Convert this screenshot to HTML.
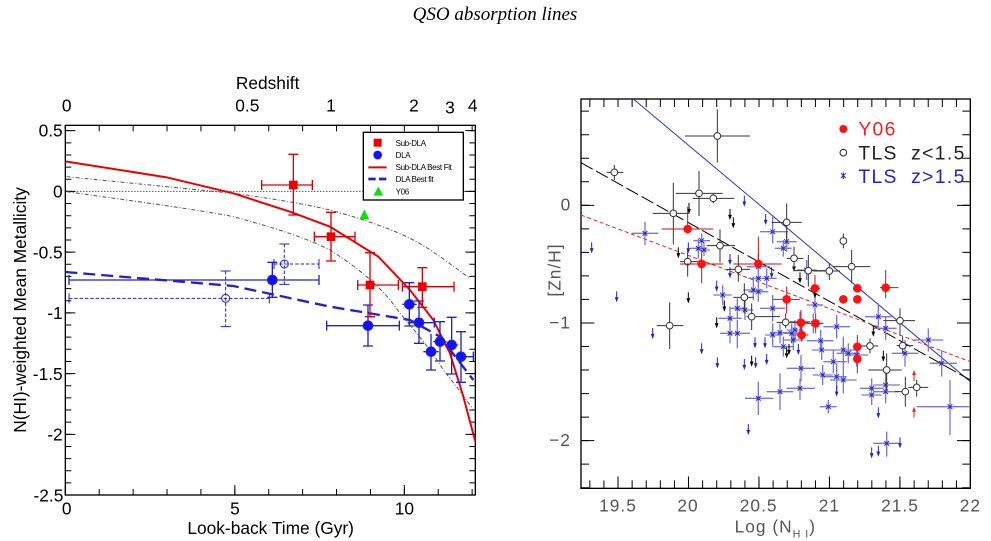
<!DOCTYPE html>
<html><head><meta charset="utf-8"><style>
body{margin:0;background:#fff;width:991px;height:541px;overflow:hidden}
svg{display:block}
</style></head><body>
<svg width="991" height="541" viewBox="0 0 991 541" xmlns="http://www.w3.org/2000/svg" font-family="Liberation Sans, sans-serif">
<defs>
<g id="da"><line x1="0" y1="-18" x2="0" y2="0" stroke-width="3"/><path d="M-5,0 L5,0 L0,14 Z"/></g>
<g id="ua"><line x1="0" y1="18" x2="0" y2="0" stroke-width="3"/><path d="M-5,0 L5,0 L0,-14 Z"/></g>
</defs>
<text x="495" y="20" text-anchor="middle" font-family="Liberation Serif, serif" font-style="italic" font-size="19">QSO absorption lines</text>

<!-- LEFT PLOT in zoom coords -->
<g transform="translate(0,60) scale(0.33333)">
<rect x="196" y="196" width="1230" height="1109" fill="none" stroke="#000" stroke-width="4"/>
<line x1="205" y1="210.5" x2="205" y2="1306" stroke="#000" stroke-width="18" stroke-dasharray="3 33.44"/>
<line x1="211" y1="210.5" x2="211" y2="1306" stroke="#000" stroke-width="30" stroke-dasharray="3 179.2"/>
<line x1="1417" y1="210.5" x2="1417" y2="1306" stroke="#000" stroke-width="18" stroke-dasharray="3 33.44"/>
<line x1="1411" y1="210.5" x2="1411" y2="1306" stroke="#000" stroke-width="30" stroke-dasharray="3 179.2"/>
<line x1="194.5" y1="1296" x2="1426" y2="1296" stroke="#000" stroke-width="18" stroke-dasharray="3 98.7"/>
<line x1="194.5" y1="1290" x2="1426" y2="1290" stroke="#000" stroke-width="30" stroke-dasharray="3 505.5"/>
<line x1="194.5" y1="205" x2="1426" y2="205" stroke="#000" stroke-width="18" stroke-dasharray="3 98.7"/>
<line x1="196" y1="394" x2="1426" y2="394" stroke="#000" stroke-width="3" stroke-dasharray="3 6"/>
<path d="M200,350 C400,370 600,390 700,400 C850,420 950,440 990,450 C1100,480 1180,510 1230,535 C1300,570 1360,620 1410,655" fill="none" stroke="#555" stroke-width="3" stroke-dasharray="12 6 3 6"/>
<path d="M200,395 C450,430 600,450 700,470 C850,510 930,540 990,570 C1100,640 1160,700 1200,760 C1260,830 1300,880 1330,930 C1370,980 1400,1020 1420,1050" fill="none" stroke="#555" stroke-width="3" stroke-dasharray="12 6 3 6"/>
<path d="M196,304 L500,352 L700,400 L870,455 L990,500 L1135,590 L1230,690 L1300,780 L1350,880 L1390,1010 L1426,1145" fill="none" stroke="#e00" stroke-width="6"/>
<path d="M196,636 L700,678 L990,740 L1230,780 L1320,830 L1420,960" fill="none" stroke="#22c" stroke-width="7" stroke-dasharray="36 18"/>
<g stroke="#22c" stroke-width="3" fill="none" stroke-dasharray="10 6">
<line x1="207" y1="715" x2="808" y2="715"/><line x1="677" y1="633" x2="677" y2="800"/>
<line x1="822" y1="612" x2="957" y2="612"/><line x1="853" y1="552" x2="853" y2="673"/>
</g>
<g stroke="#22c" stroke-width="3" fill="none">
<circle cx="677" cy="715" r="12"/><circle cx="853" cy="612" r="12"/>
<path d="M207,700v30M808,700v30M662,633h30M662,800h30M822,597v30M957,597v30M838,552h30M838,673h30"/>
</g>
<g stroke="#22c" stroke-width="4" fill="#11f">
<path d="M207,660H957M817,607V712M207,645v30M957,645v30M802,607h30M802,712h30" fill="none"/>
<path d="M980,797H1198M1104,735V858M980,782v30M1198,782v30M1089,735h30M1089,858h30" fill="none"/>
<path d="M1207,733H1250M1228,668V798M1213,668h30M1213,798h30" fill="none"/>
<path d="M1223,788H1303M1257,723V850M1242,723h30M1242,850h30M1303,773v30" fill="none"/>
<path d="M1293,822V930M1278,930h30M1270,875H1316" fill="none"/>
<path d="M1320,785V903M1305,785h30M1305,903h30M1300,845H1340" fill="none"/>
<path d="M1355,772V942M1340,772h30M1340,942h30M1335,855H1375" fill="none"/>
<path d="M1383,815V967M1368,815h30M1368,967h30M1383,890H1420M1420,875v30" fill="none"/>
<circle cx="817" cy="660" r="14"/><circle cx="1104" cy="797" r="14"/><circle cx="1228" cy="733" r="14"/><circle cx="1257" cy="788" r="14"/><circle cx="1293" cy="875" r="14"/><circle cx="1320" cy="845" r="14"/><circle cx="1355" cy="855" r="14"/><circle cx="1383" cy="890" r="14"/>
</g>
<g stroke="#d00" stroke-width="4" fill="none">
<path d="M785,375H937M880,283V465M785,360v30M937,360v30M865,283h30M865,465h30"/>
<path d="M943,530H1065M993,457V603M943,515v30M1065,515v30M978,457h30M978,603h30"/>
<path d="M1073,675H1195M1110,578V770M1073,660v30M1195,660v30M1095,578h30M1095,770h30"/>
<path d="M1207,680H1362M1267,623V742M1207,665v30M1362,665v30M1252,623h30M1252,742h30"/>
</g>
<g fill="#e00"><rect x="867" y="362" width="26" height="26"/><rect x="980" y="517" width="26" height="26"/><rect x="1097" y="662" width="26" height="26"/><rect x="1254" y="667" width="26" height="26"/></g>
<path d="M1093,448 L1108,478 L1078,478 Z" fill="#1d1"/>
<rect x="1090" y="217" width="300" height="203" fill="#fff" stroke="#000" stroke-width="4"/>
<rect x="1121" y="236" width="24" height="24" fill="#e00"/>
<circle cx="1133" cy="285" r="13" fill="#11f"/>
<line x1="1105" y1="322" x2="1160" y2="322" stroke="#e00" stroke-width="6"/>
<line x1="1105" y1="357" x2="1160" y2="357" stroke="#22c" stroke-width="8" stroke-dasharray="22 10"/>
<path d="M1135,380 L1150,407 L1120,407 Z" fill="#1d1"/>
<g font-size="24" letter-spacing="-1"><text x="1187" y="258">Sub-DLA</text><text x="1187" y="294">DLA</text><text x="1187" y="330">Sub-DLA Best Fit</text><text x="1187" y="366">DLA Best fit</text><text x="1187" y="404">Y06</text></g>
<g font-size="52" text-anchor="end">
<text x="188" y="230">0.5</text><text x="188" y="412">0</text><text x="188" y="595">-0.5</text><text x="188" y="777">-1</text><text x="188" y="960">-1.5</text><text x="188" y="1142">-2</text><text x="190" y="1325">-2.5</text>
</g>
<g font-size="52" text-anchor="middle">
<text x="200" y="1364">0</text><text x="705" y="1364">5</text><text x="1213" y="1364">10</text>
<text x="200" y="154">0</text><text x="742" y="154">0.5</text><text x="993" y="154">1</text><text x="1242" y="154">2</text><text x="1350" y="160">3</text><text x="1418" y="154">4</text>
<text x="803" y="87">Redshift</text>
<text x="812" y="1422">Look-back Time (Gyr)</text>
<text transform="translate(78,750) rotate(-90)">N(HI)-weighted Mean Metallicity</text>
</g>
</g>

<!-- RIGHT PLOT -->
<g transform="translate(500,60) scale(0.33333)">
<rect x="243" y="117" width="1168" height="1168" fill="none" stroke="#000" stroke-width="4"/>
<line x1="268" y1="1273" x2="1411" y2="1273" stroke="#000" stroke-width="24" stroke-dasharray="3 39.3"/>
<line x1="352.5" y1="1267" x2="1411" y2="1267" stroke="#000" stroke-width="36" stroke-dasharray="3 208.4"/>
<line x1="268" y1="129" x2="1411" y2="129" stroke="#000" stroke-width="24" stroke-dasharray="3 39.3"/>
<line x1="255" y1="152" x2="255" y2="1285" stroke="#000" stroke-width="24" stroke-dasharray="3 67.6"/>
<line x1="1399" y1="152" x2="1399" y2="1285" stroke="#000" stroke-width="24" stroke-dasharray="3 67.6"/>
<path d="M243,436h40M243,789h40M243,1142h40M1411,436h-40M1411,789h-40M1411,1142h-40" stroke="#000" stroke-width="3"/>
<line x1="400" y1="117" x2="1411" y2="965" stroke="#33b" stroke-width="3"/>
<line x1="243" y1="308" x2="1411" y2="960" stroke="#000" stroke-width="3" stroke-dasharray="40 12"/>
<line x1="243" y1="465" x2="1411" y2="905" stroke="#e22" stroke-width="3" stroke-dasharray="12 8"/>
<g stroke="#77d" stroke-width="4" fill="none">
<path d="M395,520h80M435,485v70 M570,565h50M595,535v60 M580,542h50M605,520v45 M595,570h35M612,548v40 M640,705h55M668,675v60 M655,775h70M690,740v70 M690,745h45M712,715v60 M660,820h60M690,790v60 M680,820h70M712,780v85 M740,620h70M775,580v70 M745,655h65M775,620v70 M770,655h60M800,625v60 M745,695h60M775,665v60 M780,745h75M818,705v80 M780,515h85M818,470v80 M830,545h60M860,515v60 M825,565h50M850,540v50 M795,825h50M818,790v70 M810,818h60M840,790v60 M850,820h50M875,790v60 M860,810h50M885,780v60 M870,785h60M900,755v60 M890,630h60M920,600v60 M920,735h50M945,710v50 M920,842h80M962,810v60 M935,870h60M965,840v60 M970,800h80M1010,765v70 M990,870h80M1030,830v80 M990,960h80M1030,900v100 M970,950h70M1010,910v80 M938,945h60M968,915v60 M960,1040h50M985,1020v40 M1035,885h70M1070,850v70 M1080,985h70M1115,955v60 M1085,1005h60M1115,975v60 M1095,770h80M1135,730v80 M1120,805h70M1157,770v70 M1120,975h80M1157,940v70 M1120,995h75M1157,960v70 M1175,880h80M1215,840v80 M1240,840h90M1285,805v70 M1290,910h80M1325,870v80 M1250,1040h160M1350,960v165 M1120,1150h80M1160,1115v75 M735,1015h85M775,965v100 M800,995h80M840,940v110 M860,985h85M900,955v65 M860,925h85M903,885v80 M730,690h60M760,650v70 M710,750h50M735,720v60 M820,860h60M850,830v60 M850,840h60M880,810v60 M910,790h60M940,760v60 M970,905h70M1000,870v70 M1010,880h70M1045,850v60"/>
</g>
<g stroke="#22c" stroke-width="3">
<path d="M428,513l14,14M442,513l-14,14 M588,558l14,14M602,558l-14,14 M598,535l14,14M612,535l-14,14 M605,563l14,14M619,563l-14,14 M661,698l14,14M675,698l-14,14 M683,768l14,14M697,768l-14,14 M705,738l14,14M719,738l-14,14 M683,813l14,14M697,813l-14,14 M705,813l14,14M719,813l-14,14 M768,613l14,14M782,613l-14,14 M768,648l14,14M782,648l-14,14 M793,648l14,14M807,648l-14,14 M768,688l14,14M782,688l-14,14 M811,738l14,14M825,738l-14,14 M811,508l14,14M825,508l-14,14 M853,538l14,14M867,538l-14,14 M843,558l14,14M857,558l-14,14 M811,818l14,14M825,818l-14,14 M833,811l14,14M847,811l-14,14 M868,813l14,14M882,813l-14,14 M878,803l14,14M892,803l-14,14 M893,778l14,14M907,778l-14,14 M913,623l14,14M927,623l-14,14 M938,728l14,14M952,728l-14,14 M955,835l14,14M969,835l-14,14 M958,863l14,14M972,863l-14,14 M1003,793l14,14M1017,793l-14,14 M1023,863l14,14M1037,863l-14,14 M1023,953l14,14M1037,953l-14,14 M1003,943l14,14M1017,943l-14,14 M961,938l14,14M975,938l-14,14 M978,1033l14,14M992,1033l-14,14 M1063,878l14,14M1077,878l-14,14 M1108,978l14,14M1122,978l-14,14 M1108,998l14,14M1122,998l-14,14 M1128,763l14,14M1142,763l-14,14 M1150,798l14,14M1164,798l-14,14 M1150,968l14,14M1164,968l-14,14 M1150,988l14,14M1164,988l-14,14 M1208,873l14,14M1222,873l-14,14 M1278,833l14,14M1292,833l-14,14 M1318,903l14,14M1332,903l-14,14 M1343,1033l14,14M1357,1033l-14,14 M1153,1143l14,14M1167,1143l-14,14 M768,1008l14,14M782,1008l-14,14 M833,988l14,14M847,988l-14,14 M893,978l14,14M907,978l-14,14 M896,918l14,14M910,918l-14,14 M753,683l14,14M767,683l-14,14 M728,743l14,14M742,743l-14,14 M843,853l14,14M857,853l-14,14 M873,833l14,14M887,833l-14,14 M933,783l14,14M947,783l-14,14 M993,898l14,14M1007,898l-14,14 M1038,873l14,14M1052,873l-14,14"/>
</g>
<g fill="#22c" stroke="#22c">
<use href="#da" x="275" y="565"/><use href="#da" x="350" y="712"/><use href="#da" x="458" y="822"/><use href="#da" x="605" y="868"/><use href="#da" x="652" y="910"/><use href="#da" x="733" y="425"/><use href="#da" x="797" y="480"/><use href="#da" x="733" y="915"/><use href="#da" x="767" y="910"/><use href="#da" x="800" y="900"/><use href="#da" x="745" y="1110"/><use href="#da" x="1115" y="1180"/><use href="#da" x="1135" y="1175"/><use href="#da" x="1200" y="1150"/><use href="#da" x="1135" y="1060"/><use href="#da" x="1010" y="995"/><use href="#da" x="690" y="600"/><use href="#da" x="650" y="680"/><use href="#da" x="765" y="850"/><use href="#da" x="795" y="850"/><use href="#da" x="815" y="640"/><use href="#da" x="895" y="870"/><use href="#da" x="565" y="565"/><use href="#da" x="690" y="640"/>
</g>
<g fill="#000" stroke="#000">
<use href="#da" x="567" y="447"/><use href="#da" x="690" y="465"/><use href="#da" x="700" y="490"/><use href="#da" x="535" y="580"/><use href="#da" x="565" y="715"/><use href="#da" x="650" y="790"/><use href="#da" x="673" y="740"/><use href="#da" x="755" y="905"/><use href="#da" x="860" y="880"/><use href="#da" x="867" y="870"/><use href="#da" x="882" y="620"/><use href="#da" x="900" y="655"/><use href="#da" x="945" y="700"/><use href="#da" x="1120" y="815"/><use href="#da" x="1150" y="890"/>
</g>
<g fill="#e22" stroke="#e22"><use href="#ua" x="1242" y="945"/><use href="#ua" x="1242" y="1055"/></g>
<g stroke="#333" stroke-width="3" fill="none">
<path d="M320,337h50M343,315v45 M555,228h195M652,148v160 M458,460h110M520,368v185 M528,400h140M597,333v135 M578,415h125M640,400v30 M540,605h60M563,570v80 M620,557h85M660,508v100 M680,628h70M715,585v80 M700,712h60M733,670v90 M740,770h100M755,730v80 M815,487h90M860,430v110 M860,595h50M882,560v70 M880,632h100M925,585v95 M940,633h80M988,610v50 M1020,543h20M1030,520v45 M1000,620h110M1055,570v100 M830,787h60M857,760v45 M1075,858h60M1110,835v45 M1105,930h100M1160,880v110 M1150,782h95M1200,745v80 M1190,857h50M1208,830v50 M1185,995h40M1216,950v90 M1225,982h60M1250,960v50 M470,797h80M509,727v140"/>
<g fill="#fff"><circle cx="343" cy="337" r="10"/><circle cx="652" cy="228" r="10"/><circle cx="520" cy="460" r="10"/><circle cx="597" cy="400" r="10"/><circle cx="640" cy="415" r="10"/><circle cx="563" cy="605" r="10"/><circle cx="660" cy="557" r="10"/><circle cx="715" cy="628" r="10"/><circle cx="733" cy="712" r="10"/><circle cx="755" cy="770" r="10"/><circle cx="860" cy="487" r="10"/><circle cx="882" cy="595" r="10"/><circle cx="925" cy="632" r="10"/><circle cx="988" cy="633" r="10"/><circle cx="1030" cy="543" r="10"/><circle cx="1055" cy="620" r="10"/><circle cx="857" cy="787" r="10"/><circle cx="1110" cy="858" r="10"/><circle cx="1160" cy="930" r="10"/><circle cx="1200" cy="782" r="10"/><circle cx="1208" cy="857" r="10"/><circle cx="1216" cy="995" r="10"/><circle cx="1250" cy="982" r="10"/><circle cx="509" cy="797" r="10"/></g>
</g>
<g stroke="#c11" stroke-width="3" fill="none">
<path d="M485,507h155M563,440v80 M540,612h130M605,570v100 M700,612h145M775,530v90 M820,718h80M860,680v80 M880,788h45M903,750v70 M885,825h40M905,800v45 M930,685h30M945,645v50 M920,790h50M947,760v60 M1072,825v115 M1140,683h55M1157,630v85"/>
</g>
<g fill="#f11"><circle cx="563" cy="507" r="13"/><circle cx="605" cy="612" r="13"/><circle cx="775" cy="612" r="13"/><circle cx="860" cy="718" r="13"/><circle cx="903" cy="788" r="13"/><circle cx="905" cy="825" r="13"/><circle cx="945" cy="685" r="13"/><circle cx="947" cy="790" r="13"/><circle cx="1030" cy="718" r="13"/><circle cx="1072" cy="685" r="13"/><circle cx="1072" cy="718" r="13"/><circle cx="1072" cy="860" r="13"/><circle cx="1072" cy="897" r="13"/><circle cx="1157" cy="683" r="13"/></g>
<circle cx="1030" cy="207" r="12" fill="#f11"/>
<circle cx="1030" cy="278" r="10" fill="none" stroke="#222" stroke-width="3"/>
<path d="M1023,340l14,14M1037,340l-14,14M1030,337v20" stroke="#22c" stroke-width="3"/>
<g font-size="58" letter-spacing="4">
<text x="1075" y="227" fill="#e22">Y06</text>
<text x="1075" y="298" fill="#222" xml:space="preserve">TLS  z&lt;1.5</text>
<text x="1075" y="369" fill="#22c" xml:space="preserve">TLS  z&gt;1.5</text>
</g>
<g font-size="52" fill="#555" text-anchor="middle" letter-spacing="3">
<text x="354" y="1354">19.5</text><text x="564" y="1354">20</text><text x="776" y="1354">20.5</text><text x="988" y="1354">21</text><text x="1200" y="1354">21.5</text><text x="1411" y="1354">22</text>
<text x="198" y="452">0</text><text x="180" y="805">−1</text><text x="180" y="1158">−2</text>
<text x="826" y="1418">Log  (N<tspan font-size="32" dy="14">H I</tspan><tspan dy="-14">)</tspan></text>
<text transform="translate(182,630) rotate(-90)">[Zn/H]</text>
</g>
</g>
</svg>
</body></html>
